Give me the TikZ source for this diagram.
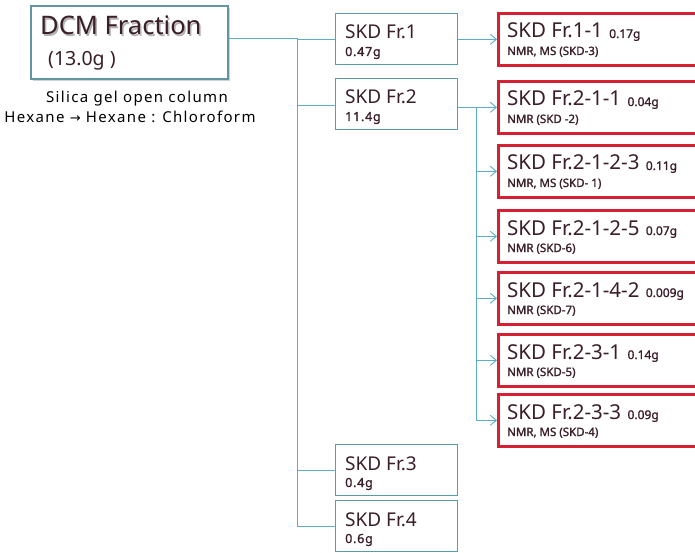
\documentclass[tikz,border=0pt]{standalone}
\usepackage{fontspec}
\setmainfont{Noto Sans}
\newfontfamily\arrowfont{DejaVu Sans}
\newfontfamily\spacedfont[LetterSpace=9]{Noto Sans}
\newfontfamily\heavyfont[FakeBold=1.3]{Noto Sans}
\newfontfamily\heavyspaced[FakeBold=1.3,LetterSpace=6]{Noto Sans}
\usetikzlibrary{arrows.meta,calc}
\definecolor{linkc}{HTML}{5AAFC6}
\definecolor{bluec}{HTML}{5A9CAA}
\definecolor{redc}{HTML}{D42030}
\definecolor{txtc}{HTML}{3A1E2A}
\tikzset{
  x=1pt,y=-1pt,
  bluebox/.style={draw=bluec,line width=1.3pt,fill=white,minimum width=122pt,minimum height=51pt,anchor=north west,inner sep=0pt},
  redbox/.style={draw=redc,line width=2.6pt,fill=white,minimum width=210pt,minimum height=52pt,anchor=north west,inner sep=0pt},
  title/.style={anchor=base west,inner sep=0pt,text=txtc,font=\fontsize{19}{19}\selectfont},
  sub/.style={anchor=base west,inner sep=0pt,text=txtc,font=\heavyfont\fontsize{11.5}{11.5}\selectfont},
  wt/.style={anchor=base west,inner sep=0pt,text=txtc,font=\heavyfont\fontsize{12}{12}\selectfont},
  link/.style={draw=linkc,line width=0.9pt},
  arr/.style={link,-{Straight Barb[length=6pt,width=10pt,line width=0.9pt]}},
}
\begin{document}
\begin{tikzpicture}
\useasboundingbox (0,0) rectangle (695,553);

% source fraction
\fill[black!18] (33,8) rectangle (230,81);
\node[draw=bluec!80!gray,line width=1.6pt,fill=white,minimum width=197pt,minimum height=73pt,anchor=north west,inner sep=0pt] (dcm) at (30,5) {};
\node[anchor=base west,inner sep=0pt,text=black!30,font=\fontsize{25.5}{25.5}\selectfont] at (41.5,36.5) {DCM Fraction};
\node[anchor=base west,inner sep=0pt,text=txtc,font=\fontsize{25.5}{25.5}\selectfont] at (40,35) {DCM Fraction};
\node[anchor=base west,inner sep=0pt,text=txtc,font=\fontsize{19.5}{19.5}\selectfont] at (48,66) {(13.0g )};
\node[anchor=base,inner sep=0pt,font=\spacedfont\fontsize{15}{15}\selectfont] (sil) at (137,103) {Silica gel open column};
\node[anchor=base,inner sep=0pt,font=\spacedfont\fontsize{15}{15}\selectfont] (hex) at (130,123) {Hexane {\arrowfont\fontsize{13}{13}\selectfont →} Hexane : Chloroform};

% first-level fractions
\node[bluebox] (f1) at (335,13) {};
\node[bluebox] (f2) at (335,78) {};
\node[bluebox] (f3) at (335,444) {};
\node[bluebox] (f4) at (335,500) {};
\foreach \n/\t/\w in {f1/SKD Fr.1/0.47g, f2/SKD Fr.2/11.4g, f3/SKD Fr.3/0.4g, f4/SKD Fr.4/0.6g}{
  \node[title] at ($(\n.north west)+(10,26)$) {\t};
  \node[sub,font=\heavyspaced\fontsize{12.5}{12.5}\selectfont] at ($(\n.north west)+(10,43)$) {\w};
}

% purified compounds
\node[redbox] (r1) at (497,12) {};
\node[redbox] (r2) at (497,80) {};
\node[redbox] (r3) at (497,144) {};
\node[redbox] (r4) at (497,209) {};
\node[redbox] (r5) at (497,271) {};
\node[redbox] (r6) at (497,333) {};
\node[redbox] (r7) at (497,393) {};
\foreach \n/\t/\w/\s in {r1/SKD Fr.1-1/0.17g/{NMR, MS (SKD-3)}, r2/SKD Fr.2-1-1/0.04g/{NMR (SKD -2)}, r3/SKD Fr.2-1-2-3/0.11g/{NMR, MS (SKD- 1)}, r4/SKD Fr.2-1-2-5/0.07g/{NMR (SKD-6)}, r5/SKD Fr.2-1-4-2/0.009g/{NMR (SKD-7)}, r6/SKD Fr.2-3-1/0.14g/{NMR (SKD-5)}, r7/SKD Fr.2-3-3/0.09g/{NMR, MS (SKD-4)}}{
  \node[title,font=\fontsize{20.5}{20.5}\selectfont] (t) at ($(\n.north west)+(10,26)$) {\t};
  \node[wt] at ($(t.base east)+(6,0)$) {\w};
  \node[sub] at ($(\n.north west)+(10,43)$) {\s};
}

% connectors
\coordinate (trunk) at (297,0);
\coordinate (split) at (476,0);
\draw[link] (dcm.east |- 0,38) -- (trunk |- 0,38) -- (trunk |- f4.west);
\draw[link] (trunk |- f1.west) -- (f1.west);
\draw[link] (trunk |- 0,105) -- (f2.west |- 0,105);
\draw[link] (trunk |- f3.west) -- (f3.west);
\draw[link] (trunk |- f4.west) -- (f4.west);
\draw[arr] (f1.east |- r1.west) -- (r1.west);
\draw[link] (f2.east |- r2.west) -- (split |- r2.west) -- (split |- r7.west);
\foreach \n in {r2,r3,r4,r5,r6,r7}
  \draw[arr] (split |- \n.west) -- (\n.west);
\end{tikzpicture}
\end{document}
